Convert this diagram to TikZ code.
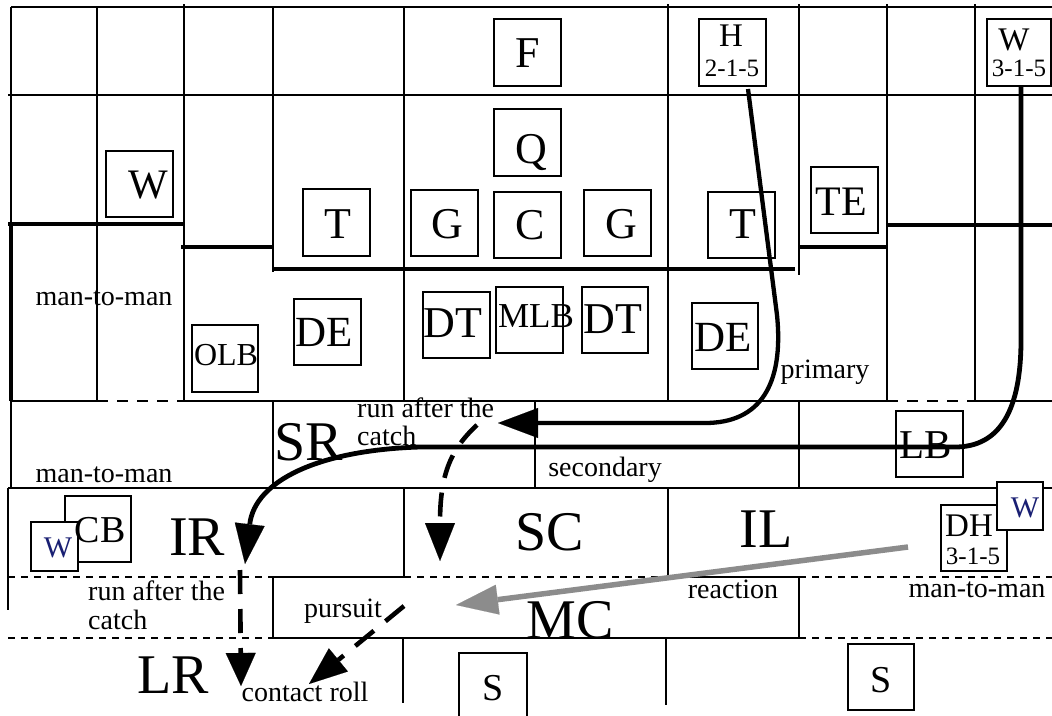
\documentclass[tikz,border=0pt]{standalone}
\usepackage{fontspec}
\setmainfont{Liberation Serif}
\usetikzlibrary{arrows.meta,fit}
\tikzset{
  gridline/.style={line width=1.4pt},
  thickline/.style={line width=3.2pt},
  shortdash/.style={line width=1.4pt, dash pattern=on 7pt off 6pt},
  longdash/.style={line width=1.4pt, dash pattern=on 11pt off 9pt},
  pbox/.style={draw, line width=1.4pt, fill=white, inner sep=0pt},
  lab/.style={anchor=base, inner sep=0pt, text depth=0pt, font=\fontsize{#1}{#1}\selectfont},
  labw/.style={anchor=base west, inner sep=0pt, font=\fontsize{#1}{#1}\selectfont},
  route/.style={line width=4.3pt, -{Triangle[length=40pt,width=30pt,line width=0.1pt]}},
  dashroute/.style={line width=4.6pt, dash pattern=on 24pt off 15pt, -{Triangle[length=38pt,width=30pt,line width=0.1pt]}},
  grayroute/.style={line width=5.5pt, draw={rgb,255:red,140;green,140;blue,140}, -{Triangle[length=42pt,width=30pt,line width=0.1pt,fill={rgb,255:red,140;green,140;blue,140}]}},
}
\definecolor{navy}{rgb}{0.10,0.12,0.45}
\begin{document}
\begin{tikzpicture}[x=1pt,y=-1pt]
\useasboundingbox (0,0) rectangle (1052,715);
\clip (0,0) rectangle (1052,715);
\fill[white] (0,0) rectangle (1052,715);

% ---------- grid ----------
\draw[gridline] (11,7) -- (1052,7);
\draw[gridline] (8,95) -- (1052,95);
\draw[gridline] (11,7) -- (11,224);
\draw[thickline] (11,224) -- (11,401);
\draw[gridline] (97,7) -- (97,401);
\draw[gridline] (184,4) -- (184,401);
\draw[gridline] (273,7) -- (273,272);
\draw[gridline] (404,7) -- (404,401);
\draw[gridline] (668,4) -- (668,401);
\draw[gridline] (799,4) -- (799,275);
\draw[gridline] (887,4) -- (887,401);
\draw[gridline] (975,4) -- (975,401);
\draw[thickline] (8,224) -- (184,224);
\draw[thickline] (181,247) -- (273,247);
\draw[thickline] (273,269) -- (795,269);
\draw[thickline] (799,247) -- (887,247);
\draw[thickline] (887,225) -- (1052,225);
\draw[gridline] (11,401) -- (97,401);
\draw[longdash] (97,401) -- (184,401);
\draw[gridline] (184,401) -- (887,401);
\draw[longdash] (887,401) -- (975,401);
\draw[gridline] (975,401) -- (1052,401);
\draw[gridline] (11,401) -- (11,488);
\draw[gridline] (273,401) -- (273,488);
\draw[gridline] (535,401) -- (535,488);
\draw[gridline] (799,401) -- (799,488);
\draw[gridline] (8,488) -- (1052,488);
\draw[gridline] (8,488) -- (8,610);
\draw[gridline] (404,488) -- (404,577);
\draw[gridline] (668,488) -- (668,577);
\draw[shortdash] (8,577) -- (273,577);
\draw[gridline] (273,577) -- (404,577);
\draw[shortdash] (404,577) -- (668,577);
\draw[gridline] (668,577) -- (799,577);
\draw[shortdash] (799,577) -- (1052,577);
\draw[gridline] (273,577) -- (273,638);
\draw[gridline] (799,577) -- (799,638);
\draw[shortdash] (8,638) -- (273,638);
\draw[gridline] (273,638) -- (799,638);
\draw[shortdash] (799,638) -- (1052,638);
\draw[gridline] (403,638) -- (403,703);
\draw[gridline] (666,638) -- (666,705);

% ---------- boxes ----------
\node[pbox, fit={(494,19) (561,86)}] (Fb) {};
\node[pbox, fit={(699,19) (766,86)}] (Hb) {};
\node[pbox, fit={(987,19) (1051,86)}] (WTb) {};
\node[pbox, fit={(494,109) (561,176)}] (Qb) {};
\node[pbox, fit={(106,151) (173,217)}] (WLb) {};
\node[pbox, fit={(303,189) (370,256)}] (T1b) {};
\node[pbox, fit={(411,190) (478,256)}] (G1b) {};
\node[pbox, fit={(494,192) (561,258)}] (Cb) {};
\node[pbox, fit={(584,190) (651,256)}] (G2b) {};
\node[pbox, fit={(708,192) (775,258)}] (T2b) {};
\node[pbox, fit={(811,167) (878,233)}] (TEb) {};
\node[pbox, fit={(192,325) (258,392)}] (OLBb) {};
\node[pbox, fit={(294,299) (361,365)}] (DE1b) {};
\node[pbox, fit={(423,292) (490,358)}] (DT1b) {};
\node[pbox, fit={(496,287) (563,353)}] (MLBb) {};
\node[pbox, fit={(582,287) (648,353)}] (DT2b) {};
\node[pbox, fit={(692,303) (758,369)}] (DE2b) {};
\node[pbox, fit={(896,411) (963,477)}] (LBb) {};
\node[pbox, fit={(65,496) (131,562)}] (CBb) {};
\node[pbox, fit={(31,522) (78,571)}] (WS1b) {};
\node[pbox, fit={(941,505) (1007,571)}] (DHb) {};
\node[pbox, fit={(997,482) (1043,530)}] (WS2b) {};
\node[pbox, fit={(459,653) (527,722)}] (S1b) {};
\node[pbox, fit={(848,644) (914,710)}] (S2b) {};

% ---------- box texts ----------
\node[lab=44] (tF) at (528,67) {F};
\node[lab=44] (tQ) at (531,163) {Q};
\node[lab=44] (tG1) at (447,238) {G};
\node[lab=44] (tC) at (530,239) {C};
\node[lab=44] (tG2) at (621,238) {G};
\node[lab=44] (tT1) at (338,238) {T};
\node[lab=44] (tT2) at (743,238) {T};
\node[lab=42] (tTE) at (841,215) {TE};
\node[lab=33] (tH) at (731,46) {H};
\node[lab=25] (tH2) at (732,76) {2-1-5};
\node[lab=33] (tWT) at (1014,50) {W};
\node[lab=25] (tWT2) at (1019,76) {3-1-5};
\node[lab=42] (tWL) at (148,198) {W};
\node[lab=32] (tOLB) at (226,365) {OLB};
\node[lab=43] (tDE1) at (324,346) {DE};
\node[lab=44] (tDT1) at (453,337) {DT};
\node[lab=35] (tMLB) at (536,327) {MLB};
\node[lab=44] (tDT2) at (613,333) {DT};
\node[lab=43] (tDE2) at (723,351) {DE};
\node[lab=41] (tLB) at (926,458) {LB};
\node[lab=38] (tCB) at (100,542) {CB};
\node[lab=30, text=navy] (tWS1) at (58,557) {W};
\node[lab=33] (tDH) at (969,536) {DH};
\node[lab=25] (tDH2) at (973,564) {3-1-5};
\node[lab=30, text=navy] (tWS2) at (1025,517) {W};
\node[lab=38] (tS1) at (493,700) {S};
\node[lab=38] (tS2) at (881,692) {S};

% ---------- zone labels ----------
\node[lab=56] (SR) at (309,460) {SR};
\node[lab=56] (IR) at (197,555) {IR};
\node[lab=56] (LR) at (173,693) {LR};
\node[lab=56] (SC) at (550,550) {SC};
\node[lab=56] (IL) at (766,547) {IL};
\node[lab=56] (MC) at (570,638) {MC};

% ---------- small texts ----------
\node[lab=28] (m1) at (104,305) {man-to-man};
\node[lab=28] (m2) at (104,482) {man-to-man};
\node[lab=28] (m3) at (977,597) {man-to-man};
\node[labw=28] (ra1) at (357,417) {run after the};
\node[labw=28] (ra1b) at (357,445) {catch};
\node[labw=28] (ra2) at (88,600) {run after the};
\node[labw=28] (ra2b) at (88,629) {catch};
\node[lab=28] (sec) at (605,476) {secondary};
\node[lab=28] (pri) at (825,378) {primary};
\node[lab=28] (rea) at (733,598) {reaction};
\node[lab=28] (pur) at (343,617) {pursuit};
\node[lab=28] (con) at (305,701) {contact roll};

% ---------- routes ----------
\coordinate (hs) at (748,89);
\coordinate (he) at (498,423);
\coordinate (ws) at (1021,86);
\coordinate (irtip) at (245,564);
\coordinate (lrtip) at (241,686);
\coordinate (rs) at (477,425);
\coordinate (sctip) at (440,561);
\coordinate (ps) at (404,606);
\coordinate (ctip) at (309,684);
\coordinate (dhs) at (908,547);
\coordinate (mctip) at (456,605);

\draw[route] (hs) -- (777,315) .. controls (784,385) and (760,423) .. (705,423) -- (he);
\draw[route, line width=4.8pt] (ws) -- (1021,340) .. controls (1021,410) and (1000,447) .. (955,447) -- (420,447) .. controls (320,450) and (255,480) .. (irtip);
\draw[dashroute, -{Triangle[length=33pt,width=30pt,line width=0.1pt]}] (240,570) -- (lrtip);
\draw[dashroute] (rs) .. controls (450,450) and (440,475) .. (sctip);
\draw[dashroute] (ps) -- (ctip);
\draw[grayroute] (dhs) -- (mctip);
\end{tikzpicture}
\end{document}
